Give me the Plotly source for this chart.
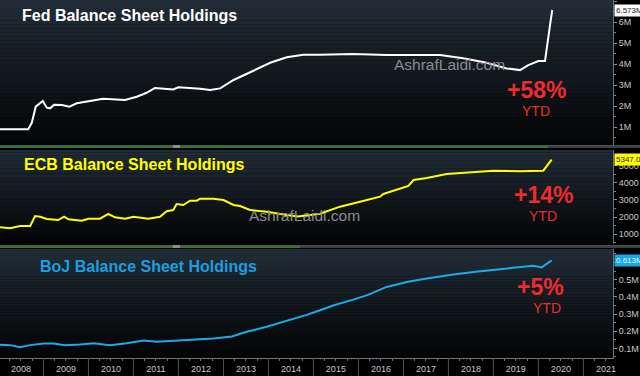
import plotly.graph_objects as go

# ---------------- data ----------------
fed_dates = ["2008-01-14", "2008-08-30", "2008-09-28", "2008-10-30", "2008-12-26", "2009-01-28",
             "2009-02-24", "2009-03-28", "2009-05-30", "2009-07-30", "2009-09-28", "2010-01-15",
             "2010-05-01", "2010-10-25", "2011-01-28", "2011-04-18", "2011-06-25", "2011-11-20",
             "2012-01-01", "2012-06-25", "2012-09-15", "2012-12-05", "2013-03-24", "2013-09-01",
             "2014-01-15", "2014-05-30", "2014-10-12", "2015-02-24", "2015-11-20", "2016-08-18",
             "2017-10-25", "2018-05-01", "2018-11-07", "2019-04-18", "2019-08-05", "2019-10-12",
             "2020-01-01", "2020-02-24", "2020-03-22", "2020-04-05", "2020-04-23"]
fed_values = [0.89, 0.89, 1.20, 1.97, 2.24, 1.92, 1.89, 2.06, 2.05, 1.97, 2.13, 2.25, 2.35, 2.29,
              2.44, 2.63, 2.86, 2.79, 2.89, 2.82, 2.76, 2.84, 3.24, 3.68, 4.06, 4.32, 4.44, 4.44,
              4.48, 4.43, 4.43, 4.27, 4.06, 3.79, 3.71, 3.95, 4.14, 4.14, 5.14, 5.86, 6.573]

ecb_dates = ["2008-01-14", "2008-04-05", "2008-06-25", "2008-09-15", "2008-10-25", "2008-12-05",
             "2009-01-28", "2009-05-01", "2009-06-17", "2009-07-22", "2009-11-07", "2010-01-01",
             "2010-04-05", "2010-06-11", "2010-08-05", "2010-10-25", "2011-01-01", "2011-05-01",
             "2011-08-05", "2011-09-28", "2011-11-20", "2011-12-18", "2012-02-10", "2012-04-05",
             "2012-05-30", "2012-06-25", "2012-10-12", "2013-01-01", "2013-03-24", "2013-05-16",
             "2013-08-05", "2013-12-18", "2014-05-30", "2014-08-30", "2015-02-24", "2015-08-05",
             "2016-01-15", "2016-06-25", "2016-07-22", "2016-11-07", "2017-02-10", "2017-03-24",
             "2017-07-09", "2017-12-18", "2018-06-25", "2019-01-01", "2019-08-05", "2020-02-10",
             "2020-04-18"]
ecb_values = [1407, 1349, 1483, 1483, 2064, 2023, 1890, 1831, 2023, 1872, 1791, 1907, 1907, 2180,
              1988, 1907, 2023, 1907, 2023, 2337, 2413, 2762, 2703, 2953, 2953, 3070, 3070, 2994,
              2703, 2645, 2413, 2314, 2122, 2030, 2200, 2607, 2897, 3188, 3343, 3576, 3808, 4157,
              4273, 4506, 4622, 4698, 4663, 4698, 5347.04]

boj_dates = ["2008-01-14", "2008-04-05", "2008-06-25", "2008-09-15", "2009-01-01", "2009-03-24",
             "2009-06-25", "2009-10-25", "2010-02-10", "2010-06-25", "2010-11-07", "2011-03-24",
             "2011-07-09", "2011-11-20", "2012-05-01", "2012-10-12", "2013-03-10", "2013-07-09",
             "2013-12-18", "2014-05-30", "2014-11-07", "2015-02-24", "2015-06-11", "2015-11-20",
             "2016-03-08", "2016-08-18", "2017-01-28", "2017-07-09", "2018-02-10", "2018-09-15",
             "2019-04-18", "2019-11-20", "2020-01-28", "2020-04-18"]
boj_values = [0.121, 0.119, 0.107, 0.119, 0.128, 0.128, 0.119, 0.122, 0.130, 0.119, 0.130, 0.146,
              0.138, 0.144, 0.148, 0.158, 0.169, 0.197, 0.226, 0.260, 0.295, 0.322, 0.350, 0.384,
              0.409, 0.458, 0.487, 0.507, 0.531, 0.550, 0.566, 0.581, 0.572, 0.613]

years = list(range(2008, 2022))
titles = ["Fed Balance Sheet Holdings", "ECB Balance Sheet Holdings", "BoJ Balance Sheet Holdings"]
ytd_labels = ["+58%", "+14%", "+5%"]
watermark = "AshrafLaidi.com"

# ---------------- layout helpers ----------------
W_PLOT = 613.0   # plot area width in px
H_PLOT = 358.0   # plot area height in px
FONT = "Liberation Sans, Arial, sans-serif"


def xp(px):
    return px / W_PLOT


def yp(py):
    return (H_PLOT - py) / H_PLOT


fig = go.Figure()
fig.add_trace(go.Scatter(x=fed_dates, y=fed_values, mode="lines", xaxis="x", yaxis="y",
                         line=dict(color="#ffffff", width=2), showlegend=False))
fig.add_trace(go.Scatter(x=ecb_dates, y=ecb_values, mode="lines", xaxis="x", yaxis="y2",
                         line=dict(color="#ffff00", width=2), showlegend=False))
fig.add_trace(go.Scatter(x=boj_dates, y=boj_values, mode="lines", xaxis="x", yaxis="y3",
                         line=dict(color="#1aace8", width=2), showlegend=False))

axis_font = dict(family=FONT, size=9, color="#c8c8c8")
common_y = dict(side="right", anchor="x", showgrid=False, zeroline=False, showline=True,
                linecolor="#6b7378", ticks="outside", ticklen=3, tickcolor="#8a8f93",
                tickfont=axis_font, fixedrange=True)

fig.update_layout(
    width=640, height=376,
    margin=dict(l=0, r=27, t=0, b=18),
    paper_bgcolor="#000000", plot_bgcolor="#000000",
    xaxis=dict(type="date", domain=[0, 1], anchor="y3",
               range=["2008-01-14", "2021-08-29"],
               tick0="2008-01-01", dtick="M12", tickformat="%Y", ticklabelmode="period",
               ticks="outside", ticklen=2, tickcolor="#7a7f83",
               minor=dict(dtick="M3", tick0="2008-01-01", ticks="outside", ticklen=2, tickcolor="#6a6f73"),
               showline=True, linecolor="#6d7478", showgrid=False, zeroline=False,
               tickfont=axis_font, fixedrange=True),
    yaxis=dict(domain=[yp(146), 1], range=[0.095, 7.05], tick0=0, dtick=1, ticksuffix="M",
               minor=dict(dtick=0.5, tick0=0, ticks="outside", ticklen=2, tickcolor="#7a7f83"),
               **common_y),
    yaxis2=dict(domain=[yp(244), yp(150)], range=[436, 5901], tick0=0, dtick=1000, tickformat="d",
                minor=dict(dtick=500, tick0=0, ticks="outside", ticklen=2, tickcolor="#7a7f83"),
                **common_y),
    yaxis3=dict(domain=[0, yp(249)], range=[0.044, 0.679], tick0=0, dtick=0.1, tickformat=".1f",
                ticksuffix="M",
                minor=dict(dtick=0.05, tick0=0, ticks="outside", ticklen=2, tickcolor="#7a7f83"),
                **common_y),
)

# ---------------- panel gradient backgrounds ----------------
shapes = []
top_rgb = (33, 45, 55)
bot_rgb = (3, 4, 5)
n_bands = 36
for yref in ["y domain", "y2 domain", "y3 domain"]:
    for i in range(n_bands):
        t = (i + 0.5) / n_bands  # 0 bottom -> 1 top
        c = tuple(int(round(bot_rgb[k] + (top_rgb[k] - bot_rgb[k]) * t)) for k in range(3))
        shapes.append(dict(type="rect", xref="paper", yref=yref, x0=0, x1=1,
                           y0=i / n_bands, y1=(i + 1) / n_bands + 0.001,
                           fillcolor="rgb(%d,%d,%d)" % c, line=dict(width=0), layer="below"))

# separators between panels
for (py, green_end) in [(146, 548), (246, 300)]:
    shapes.append(dict(type="rect", xref="paper", yref="paper", x0=0, x1=640 / W_PLOT,
                       y0=yp(py), y1=yp(py - 1), fillcolor="#4c5256", line=dict(width=0)))
    shapes.append(dict(type="rect", xref="paper", yref="paper", x0=0, x1=xp(green_end),
                       y0=yp(py + 2), y1=yp(py), fillcolor="#2f7a2c", line=dict(width=0)))
    shapes.append(dict(type="rect", xref="paper", yref="paper", x0=xp(green_end), x1=640 / W_PLOT,
                       y0=yp(py + 2), y1=yp(py), fillcolor="#3a3f42", line=dict(width=0)))
    shapes.append(dict(type="rect", xref="paper", yref="paper", x0=xp(173), x1=xp(180),
                       y0=yp(py + 2), y1=yp(py - 1), fillcolor="#8a8f92", line=dict(width=0)))

# year boundary lines below the x axis
for yr in years:
    shapes.append(dict(type="line", xref="x", yref="paper", x0="%d-01-01" % yr, x1="%d-01-01" % yr,
                       y0=0, y1=-18 / H_PLOT, line=dict(color="#4d5256", width=1)))
fig.update_layout(shapes=shapes)

# ---------------- annotations ----------------
ann = []
title_specs = [(titles[0], 20, 15, "#ffffff"), (titles[1], 22, 164, "#ffff00"), (titles[2], 38, 266, "#1a9fe0")]
for text, px_, py_, col in title_specs:
    ann.append(dict(text="<b>%s</b>" % text, xref="paper", yref="paper", x=xp(px_), y=yp(py_),
                    xanchor="left", yanchor="middle", showarrow=False,
                    font=dict(family=FONT, size=16, color=col)))

red = "#ee2b2e"
for text, (cx, cy), (tx, ty) in zip(ytd_labels,
                                    [(536, 90), (543, 195), (540, 287)],
                                    [(536, 111), (543, 216), (547, 308)]):
    ann.append(dict(text="<b>%s</b>" % text, xref="paper", yref="paper", x=xp(cx), y=yp(cy),
                    xanchor="center", yanchor="middle", showarrow=False,
                    font=dict(family=FONT, size=23, color=red)))
    ann.append(dict(text="YTD", xref="paper", yref="paper", x=xp(tx), y=yp(ty),
                    xanchor="center", yanchor="middle", showarrow=False,
                    font=dict(family=FONT, size=14, color=red)))

for (cx, cy) in [(449, 65), (304, 215)]:
    ann.append(dict(text=watermark, xref="paper", yref="paper", x=xp(cx), y=yp(cy),
                    xanchor="center", yanchor="middle", showarrow=False,
                    font=dict(family=FONT, size=15.5, color="#8c8c8c")))

# last-value boxes on the right axis
last_specs = [("y", "%.3fM" % fed_values[-1], fed_values[-1], "#ffffff", "#1a1a1a"),
              ("y2", "%.2f" % ecb_values[-1], ecb_values[-1], "#ffff00", "#1a1a1a"),
              ("y3", "%.3fM" % boj_values[-1], boj_values[-1], "#1aa8e6", "#eaf6ff")]
for yref, text, val, bg, fc in last_specs:
    ann.append(dict(text=text, xref="paper", yref=yref, x=1, y=val, xanchor="left", yanchor="middle",
                    xshift=1, showarrow=False, bgcolor=bg, borderpad=1,
                    font=dict(family=FONT, size=8, color=fc)))

fig.update_layout(annotations=ann)

fig.write_html("out.html", config={"displayModeBar": False},
               post_script="document.body.style.margin='0px';document.body.style.overflow='hidden';")
